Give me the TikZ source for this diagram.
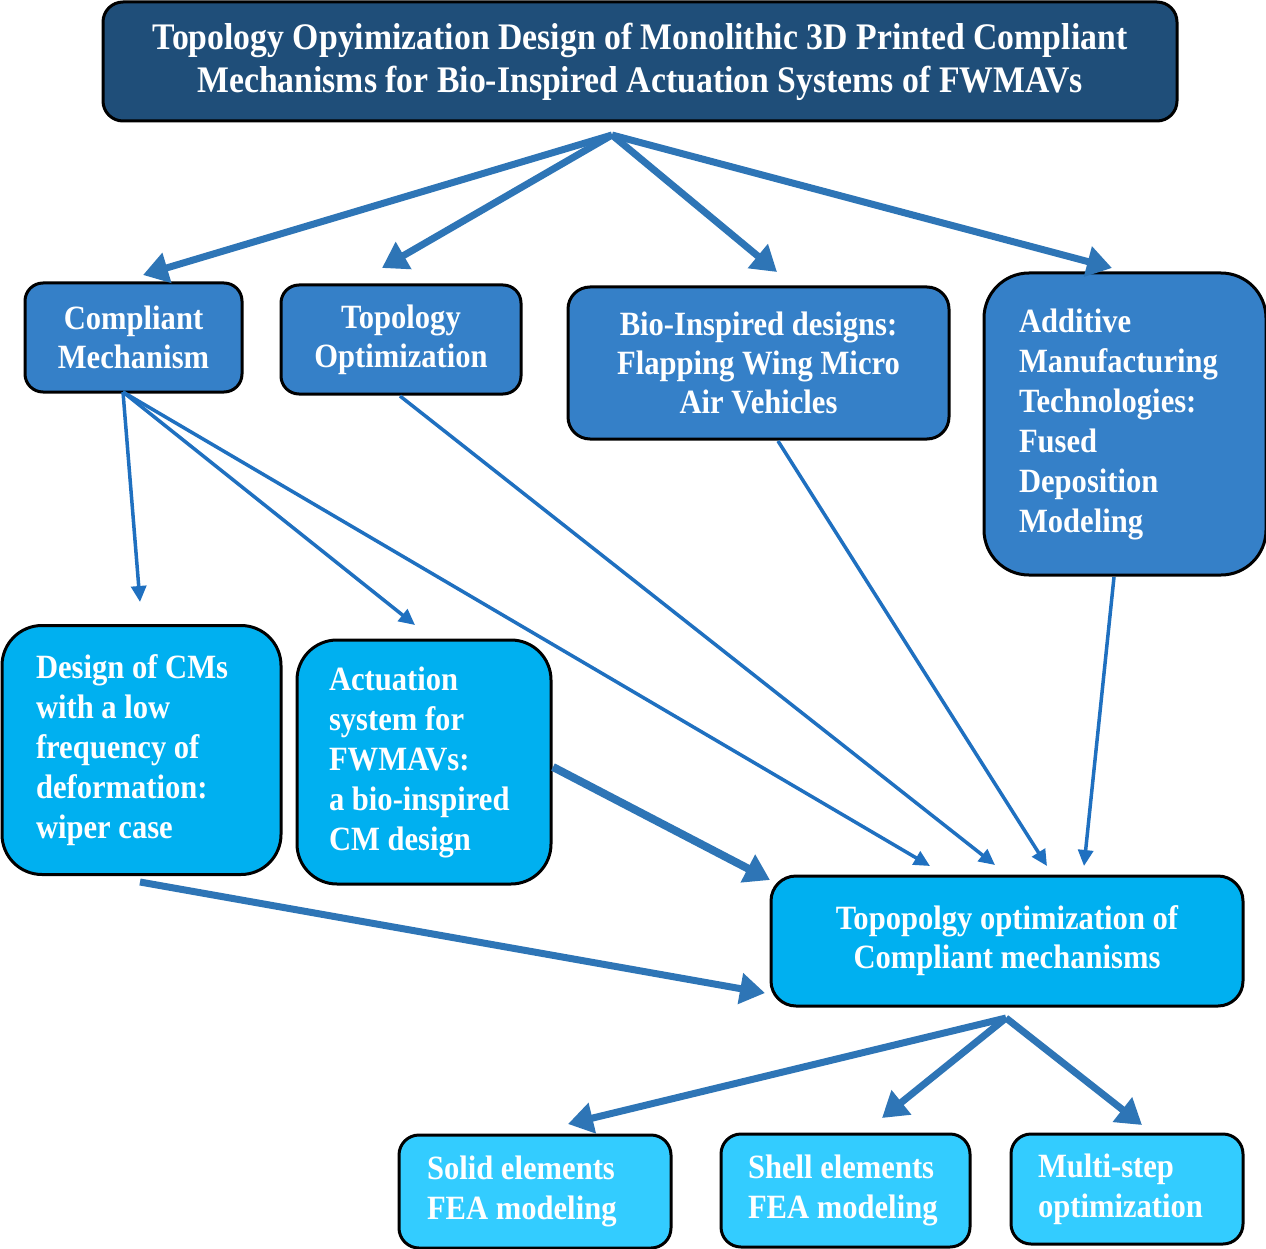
\documentclass[tikz,border=0pt]{standalone}
\usepackage{fontspec}
\setmainfont{Liberation Serif}[FakeStretch=0.9]
\usetikzlibrary{arrows.meta}
\definecolor{titleblue}{HTML}{1F4E79}
\definecolor{midblue}{HTML}{3580C8}
\definecolor{cyanbox}{HTML}{00B0F0}
\definecolor{lightcyan}{HTML}{33CCFF}
\definecolor{arrblue}{HTML}{2E75B6}
\definecolor{thinblue}{HTML}{1F70C0}
\tikzset{
  box/.style={draw=black, line width=3pt, text=white, font=\bfseries\fontsize{34}{39}\selectfont, inner sep=0pt},
  cbox/.style={box, align=center},
  lbox/.style={box, align=flush left, inner xsep=33pt, font=\bfseries\fontsize{34}{40}\selectfont},
  thickarr/.style={draw=arrblue, line width=7pt, -{Triangle[length=25pt,width=30pt]}},
  thinarr/.style={draw=thinblue, line width=3.5pt, -{Triangle[length=16pt,width=15pt]}}
}
\begin{document}
\begin{tikzpicture}[x=1pt,y=-1pt]
\path[use as bounding box, fill=white] (0,0) rectangle (1266,1249);

% nodes
\node[cbox, fill=titleblue, minimum width=1074pt, minimum height=119pt, rounded corners=20pt,
      font=\bfseries\fontsize{37.5}{43}\selectfont] (title) at (640,61.5)
  {Topology Opyimization Design of Monolithic 3D Printed Compliant\\Mechanisms for Bio-Inspired Actuation Systems of FWMAVs};

\node[cbox, fill=midblue, minimum width=217pt, minimum height=109pt, rounded corners=18pt] (cm) at (133.5,337.5)
  {Compliant\\Mechanism};
\node[cbox, fill=midblue, minimum width=240pt, minimum height=109pt, rounded corners=18pt] (to) at (401,339.5)
  {Topology\\Optimization};
\node[cbox, fill=midblue, minimum width=381pt, minimum height=152pt, rounded corners=22pt] (bio) at (758.5,363)
  {Bio-Inspired designs:\\Flapping Wing Micro\\Air Vehicles};
\node[lbox, fill=midblue, text width=212pt, minimum width=278pt, minimum height=302pt, rounded corners=45pt, inner xsep=35pt] (am) at (1125,424)
  {Additive\\Manufacturing\\Technologies:\\Fused\\Deposition\\Modeling};

\node[lbox, fill=cyanbox, text width=211pt, minimum width=277pt, minimum height=249pt, rounded corners=40pt, inner xsep=34pt] (dcm) at (141.5,750)
  {Design of CMs\\with a low\\frequency of\\deformation:\\wiper case};
\node[lbox, fill=cyanbox, text width=190pt, minimum width=254pt, minimum height=244pt, rounded corners=40pt, inner xsep=32pt] (act) at (424,762)
  {Actuation\\system for\\FWMAVs:\\a bio-inspired\\CM design};

\node[cbox, fill=cyanbox, minimum width=472pt, minimum height=130pt, rounded corners=25pt] (tcm) at (1007,941)
  {Topopolgy optimization of\\Compliant mechanisms};

\node[lbox, fill=lightcyan, text width=216pt, minimum width=272pt, minimum height=113pt, rounded corners=20pt, inner xsep=28pt] (solid) at (535,1191.5)
  {Solid elements\\FEA modeling};
\node[lbox, fill=lightcyan, text width=195pt, minimum width=249pt, minimum height=113pt, rounded corners=20pt, inner xsep=27pt] (shell) at (845.5,1190.5)
  {Shell elements\\FEA modeling};
\node[lbox, fill=lightcyan, text width=178pt, minimum width=232pt, minimum height=110pt, rounded corners=20pt, inner xsep=27pt] (ms) at (1127,1189)
  {Multi-step\\optimization};

% coordinates
\coordinate (apex) at (612,135);
\coordinate (apex2) at (1006,1018);
\coordinate (cmtip) at (143,275);
\coordinate (totip) at (382,268);
\coordinate (biotip) at (777,272);
\coordinate (amtip) at (1112,268);
\coordinate (cmout) at (123,392);
\coordinate (toout) at (400,396);
\coordinate (bioout) at (778,441);
\coordinate (amout) at (1114,577);
\coordinate (dcmtip) at (140,602);
\coordinate (acttip) at (415,625);
\coordinate (t1) at (930,866);
\coordinate (t2) at (995,865);
\coordinate (t3) at (1047,866);
\coordinate (t4) at (1084,866);
\coordinate (actout) at (553,767);
\coordinate (t5) at (770,880);
\coordinate (dcmout) at (140,882);
\coordinate (t6) at (765,993);
\coordinate (s1) at (568,1124);
\coordinate (s2) at (882,1118);
\coordinate (s3) at (1142,1125);

% arrows
\draw[thickarr] (apex) -- (cmtip);
\draw[thickarr] (apex) -- (totip);
\draw[thickarr] (apex) -- (biotip);
\draw[thickarr] (apex) -- (amtip);

\draw[thinarr] (cmout) -- (dcmtip);
\draw[thinarr] (cmout) -- (acttip);
\draw[thinarr] (cmout) -- (t1);
\draw[thinarr] (toout) -- (t2);
\draw[thinarr] (bioout) -- (t3);
\draw[thinarr] (amout) -- (t4);

\draw[thickarr, line width=8pt] (actout) -- (t5);
\draw[thickarr] (dcmout) -- (t6);

\draw[thickarr] (apex2) -- (s1);
\draw[thickarr] (apex2) -- (s2);
\draw[thickarr] (apex2) -- (s3);
\end{tikzpicture}
\end{document}
